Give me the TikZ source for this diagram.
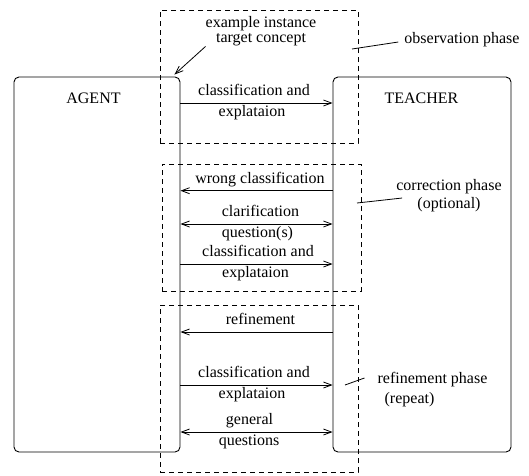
\documentclass[tikz,border=0pt]{standalone}
\usepackage{fontspec}
\setmainfont{Liberation Serif}
\usetikzlibrary{arrows.meta}
\tikzset{
	actor/.style={draw, line width=0.9pt, rounded corners=5pt, minimum width=#1, minimum height=375pt, inner sep=0pt},
	phase/.style={draw, line width=0.8pt, dash pattern=on 5pt off 4pt, inner sep=0pt},
	msg/.style={line width=0.8pt},
	txt/.style={inner sep=0pt, font=\fontsize{16}{18}\selectfont, align=center},
	>={Straight Barb[length=8pt,width=6pt]}
}
\begin{document}
\begin{tikzpicture}[x=1pt, y=-1pt]
			\useasboundingbox (0,0) rectangle (529,475);
			\node[actor=166pt] (agent) at (97,264.5) {};
			\node[actor=178pt] (teacher) at (422,264.5) {};
			\node[txt] (agentname) at (93.5,98) {AGENT};
			\node[txt] (teachername) at (421.5,98) {TEACHER};
			\node[phase, minimum width=198pt, minimum height=133pt] (obs) at (259,76.5) {};
			\node[phase, minimum width=199pt, minimum height=127pt] (corr) at (261.5,227.5) {};
			\node[phase, minimum width=198pt, minimum height=167pt] (refi) at (259,388.5) {};
			\foreach \y/\x/\tip/\up [count=\i] in {103/254/->/classification and, 190.7/260/<-/wrong classification, 224/260.5/<->/clarification, 264/258/->/classification and, 332/260.5/<-/refinement, 385/254/->/classification and, 432/249.5/<->/general}{
				\draw[msg, \tip] (agent.east |- 0,\y) -- (teacher.west |- 0,\y);
				\node[txt, anchor=base] (up\i) at (\x,\y-7.5) {\up};
			}
			\foreach \y/\x/\down [count=\i] in {103/252/explataion, 224/257.5/question(s), 264/255.5/explataion, 385/252/explataion, 432/249/questions}{
				\node[txt, anchor=base] (down\i) at (\x,\y+13.5) {\down};
			}
			\node[txt, font=\fontsize{16}{15}\selectfont] (example) at (261,31.5) {example instance\\target concept};
			\node[txt] (obsname) at (462,40) {observation phase};
			\node[txt] (corrname) at (449,196) {correction phase\\(optional)};
			\node[txt, align=left] (refname) at (432.5,390) {refinement phase\\[2pt]\hspace*{7pt}(repeat)};
			\coordinate (obsfoot) at (352,49);
			\coordinate (corrfoot) at (357,203);
			\coordinate (reffoot) at (345,385);
			\draw[msg, ->] (example.south west) -- ([xshift=-6pt, yshift=2pt]agent.north east);
			\draw[msg] (obsfoot) -- ([xshift=-6pt, yshift=-2pt]obsname.west);
			\draw[msg] (corrfoot) -- ([xshift=6pt, yshift=-2pt]corrname.west);
			\draw[msg] (reffoot) -- ([shift={(-13pt,12pt)}]refname.west);
		\end{tikzpicture}
\end{document}
